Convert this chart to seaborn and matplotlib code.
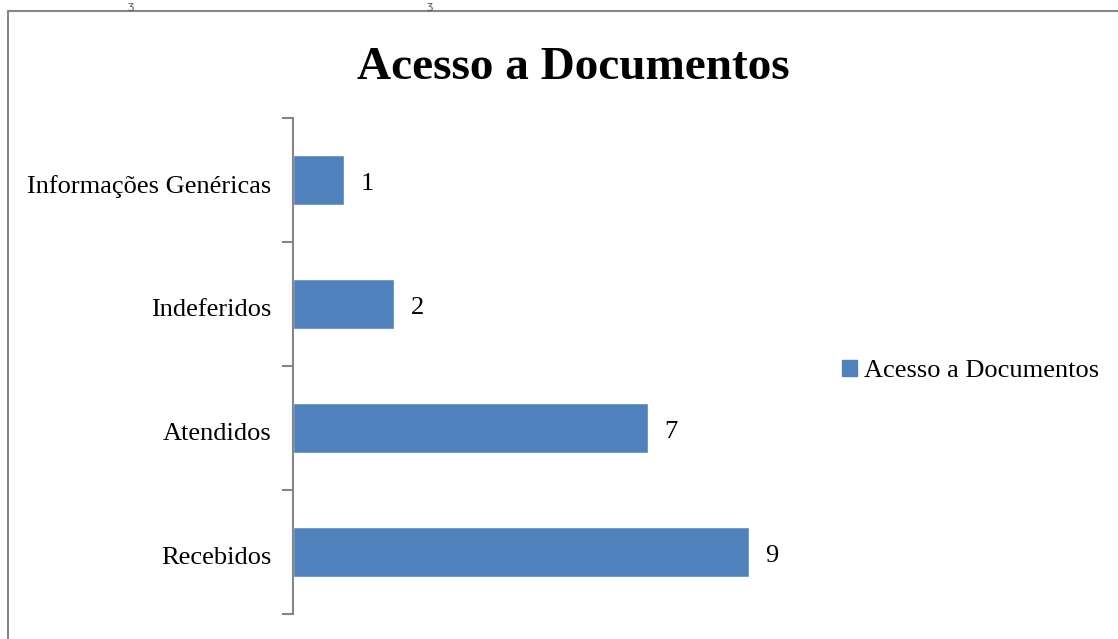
import pandas as pd
import numpy as np
import matplotlib
matplotlib.use("Agg")
import matplotlib.pyplot as plt
import matplotlib.transforms as mtransforms
import seaborn as sns
from matplotlib.lines import Line2D
from matplotlib.patches import Patch

# data
categorias = ["Informações Genéricas", "Indeferidos", "Atendidos", "Recebidos"]
valores = [1, 2, 7, 9]
serie = "Acesso a Documentos"

df = pd.DataFrame({"Categoria": categorias, "Valor": valores})

sns.set_theme(style="white")
plt.rcParams["font.family"] = ["Liberation Serif", "DejaVu Serif"]
plt.rcParams["text.color"] = "black"

fig = plt.figure(figsize=(11.18, 6.39), dpi=100)
W, H = 1118, 639
ax = fig.add_axes([293 / W, 1 - 614 / H, 504 / W, (614 - 118) / H])

cor = "#4F81BD"
sns.barplot(data=df, x="Valor", y="Categoria", order=categorias, color=cor,
            width=0.4, saturation=1, ax=ax)

ax.set_xlim(0, 9.95)
ax.set_ylim(3.5, -0.5)
ax.set_xlabel("")
ax.set_ylabel("")
ax.set_xticks([])

# small downward nudge so text sits like the original
desce = mtransforms.ScaledTranslation(0, -4 / 100, fig.dpi_scale_trans)

# value labels
for i, v in enumerate(valores):
    ax.text(v + 0.33, i, str(v), va="center", ha="left", fontsize=19, color="black",
            transform=ax.transData + desce)

# axis styling
for s in ["top", "right", "bottom"]:
    ax.spines[s].set_visible(False)
ax.spines["left"].set_color("#868686")
ax.spines["left"].set_linewidth(1.5)
ax.set_yticks(np.arange(-0.5, 4, 1), minor=True)
ax.tick_params(axis="y", which="major", length=0, pad=15.5, labelsize=19, labelcolor="black")
ax.tick_params(axis="y", which="minor", length=8, width=1.5, color="#868686", left=True)
for lbl in ax.get_yticklabels():
    lbl.set_transform(lbl.get_transform() + desce)

# title
fig.text(573 / W, 1 - 68 / H, serie, ha="center", va="center",
         fontsize=34, fontweight="bold", color="black")

# legend
fig.legend(handles=[Patch(facecolor=cor, edgecolor=cor, label=serie)],
           loc="center left", bbox_to_anchor=(842 / W, 1 - 371 / H),
           frameon=False, fontsize=19, handlelength=0.55, handleheight=0.55,
           handletextpad=0.3, borderpad=0, borderaxespad=0, labelcolor="black")

# outer frame (cropped chart border)
fig.add_artist(Line2D([8 / W, 1], [1 - 11 / H, 1 - 11 / H], color="#868686", lw=1.5))
fig.add_artist(Line2D([8 / W, 8 / W], [0, 1 - 11 / H], color="#868686", lw=1.5))
for x in [131, 430]:
    fig.text(x / W, 1 - 6 / H, "ʒ", ha="center", va="center", fontsize=8,
             color="#555555", family=["DejaVu Sans"])

fig.savefig("out.png", dpi=100)
